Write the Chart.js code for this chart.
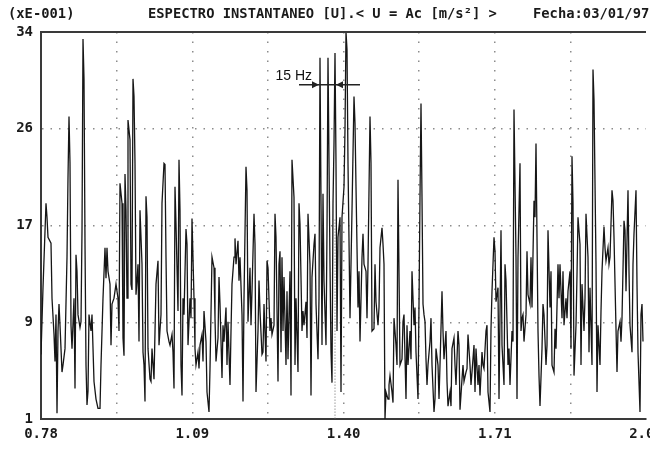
<!DOCTYPE html>
<html>
<head>
<meta charset="utf-8">
<script src="https://cdn.jsdelivr.net/npm/chart.js@4/dist/chart.umd.min.js"></script>
<style>
  html, body { margin: 0; padding: 0; background: #fff; }
  canvas { display: block; }
</style>
</head>
<body>
<canvas id="spectrum" width="650" height="460"></canvas>
<script>
// frequency line (bin) of each reading, left to right
const bins = [
  0,2,5,6,7,10,11,13,14,15,16,17,18,19,21,22,24,26,27,28,29,30,31,33,34,35,36,37,39,40,
  41,42,43,44,45,46,47,48,50,51,53,55,57,59,60,62,64,65,66,67,69,70,71,73,75,77,78,79,81,82,
  83,84,85,86,87,89,90,91,92,93,94,95,96,97,98,99,101,102,103,104,105,106,107,109,110,111,113,115,117,118,120,
  121,123,124,125,126,128,129,131,132,133,134,135,137,138,139,140,141,142,143,145,
  146,147,149,150,151,153,154,155,157,158,159,161,162,163,165,166,168,169,171,173,
  174,175,177,178,179,181,182,183,185,186,187,189,190,191,193,194,195,197,198,199,
  201,202,203,205,206,207,209,210,211,213,214,215,217,218,219,221,222,223,225,226,
  227,229,230,231,233,234,235,237,238,239,
  240,241,242,243,245,246,247,249,250,251,253,254,255,257,258,259,261,262,263,265,
  266,267,269,270,271,273,274,275,277,278,279,281,282,283,285,286,287,289,290,291,
  292,293,294,295,296,297,299,300,301,303,304,305,306,307,309,310,311,313,314,315,
  317,318,319,321,322,323,325,326,327,329,330,331,333,334,335,337,338,339,341,342,
  343,344,345,347,348,349,351,352,353,355,356,357,
  359,361,362,363,365,366,367,369,370,371,373,374,375,377,378,379,380,381,382,383,
  384,385,386,387,389,390,391,393,394,395,397,398,399,401,402,403,405,406,407,409,
  410,411,413,414,415,417,418,419,421,422,423,425,426,427,429,430,431,433,434,435,
  437,438,439,441,442,443,445,446,447,449,450,451,453,454,455,457,458,459,460,461,
  463,464,465,467,468,469,471,472,473,475,476,477,479,480,
  481,482,483,485,486,487,489,490,491,493,494,495,497,498,499,501,502,503,505,506,
  507,509,510,511,513,514,515,517,518,519,521,522,523,525,526,527,529,530,531,532,
  533,535,536,537,539,540,541,543,544,545,547,548,549,551,552,553,555,556,557,559,
  560,561,563,564,565,567,568,569,571,572,573,575,576,577,579,580,581,583,584,585,
  587,588,589,591,592,593,595,596,597,599,600,601,602
];

// amplitude (xE-001) read at each bin
const amps = [
  6.5,12.2,19.4,18.2,16.5,16.0,11.3,8.2,5.9,9.9,1.5,8.5,10.8,9.0,5.0,5.6,7.0,14.8,21.6,26.8,
  22.8,9.0,7.0,11.3,3.6,15.0,13.6,9.9,8.8,9.3,17.0,33.4,30.0,15.9,5.6,2.2,3.4,9.9,8.5,9.9,
  4.2,2.7,1.9,1.9,5.6,11.3,15.6,13.0,15.6,13.6,12.5,7.3,10.8,11.3,12.5,11.3,8.5,21.1,19.4,7.9,
  6.4,21.9,18.8,11.3,26.5,24.8,12.5,12.0,30.0,28.5,22.8,11.6,12.8,14.2,7.6,18.8,14.2,6.7,5.6,2.5,
  20.0,18.2,7.0,4.4,4.2,7.0,4.4,12.5,14.5,7.3,9.9,
  19.4,22.8,22.7,14.8,8.5,7.6,7.3,8.2,6.7,3.6,20.8,17.6,10.2,23.1,18.8,5.6,3.0,11.3,9.9,17.2,
  15.9,7.3,11.3,9.6,18.1,11.3,7.0,5.6,6.7,5.3,7.3,8.2,5.9,10.2,7.6,3.3,1.6,5.3,14.8,13.9,
  9.6,5.9,7.9,13.1,10.8,4.5,9.0,7.6,10.5,5.6,9.3,3.9,8.5,12.5,14.8,16.4,14.2,16.2,12.8,14.8,
  9.9,2.5,11.3,22.5,20.5,9.3,13.9,9.0,11.9,18.5,15.9,3.3,8.5,12.8,10.2,6.5,6.7,10.8,5.9,14.5,
  13.9,8.5,9.6,8.2,9.0,18.5,16.5,4.2,14.2,15.3,
  6.7,14.8,8.5,13.1,5.6,11.9,6.1,13.6,3.0,23.1,19.9,5.6,11.3,5.0,19.4,17.6,8.5,10.2,9.0,11.0,
  7.9,18.5,14.2,3.0,13.1,15.9,16.8,10.8,6.1,11.3,31.8,7.3,20.2,12.8,7.3,17.1,31.8,14.2,6.7,4.1,
  19.4,24.5,32.2,22.8,8.5,16.5,18.2,3.3,18.2,20.8,25.7,34.0,32.5,22.8,9.6,14.2,18.8,28.5,26.2,20.8,
  10.5,13.6,7.6,14.8,16.8,14.2,13.6,9.6,14.2,26.8,22.8,8.5,8.7,14.2,11.0,9.0,10.5,15.6,17.3,15.9,
  14.2,1.0,3.3,2.7,3.9,4.7,3.3,2.4,9.6,7.3,5.6,21.4,
  5.6,6.1,9.3,9.9,2.7,9.0,5.6,8.5,6.1,13.6,9.0,10.5,6.7,2.7,10.8,19.9,27.9,19.9,10.8,9.9,
  9.3,6.1,3.9,5.6,7.6,9.6,5.6,1.6,2.7,7.0,5.6,2.7,5.6,11.9,8.5,6.1,8.5,4.2,2.1,3.3,
  2.1,7.0,7.9,5.6,3.9,8.5,7.3,1.8,4.4,5.6,4.2,5.0,5.3,8.2,5.6,3.9,5.0,7.3,3.3,7.0,
  3.9,5.6,3.0,6.7,5.6,5.3,8.5,9.0,3.3,1.6,8.7,11.9,16.5,15.3,11.0,12.2,2.7,9.9,17.1,7.3,
  3.9,14.2,12.8,5.6,7.0,3.9,8.5,7.6,27.4,14.8,2.7,14.8,22.8,8.5,
  9.6,9.9,7.6,9.9,15.3,11.6,10.8,14.8,10.5,19.6,18.2,24.5,8.5,4.7,2.1,7.0,10.8,9.9,5.6,7.3,
  17.1,10.5,13.6,5.6,5.0,8.7,7.0,14.2,11.3,14.2,9.6,13.6,9.0,11.3,9.6,11.9,13.6,7.0,23.4,19.4,
  4.7,9.0,13.3,18.2,15.9,5.6,12.5,8.5,11.3,18.5,14.8,6.7,12.2,5.6,30.8,28.2,14.2,3.3,9.0,5.6,
  10.2,13.6,17.4,15.6,14.5,15.6,14.2,14.8,20.5,19.6,16.5,8.7,5.0,8.5,9.3,7.6,9.6,17.9,17.1,11.9,
  20.5,13.6,9.0,6.7,14.2,16.8,20.5,12.5,6.7,1.6,9.9,10.8,7.6
];

const xTickLabels = ['0.78', '1.09', '1.40', '1.71', '2.03'];
const yTickLabels = ['1', '9', '17', '26', '34'];
const binRange = [0, 605];
const ampRange = [1, 34];

// the two lines marked "15 Hz" apart, and the level of the marker
const markerBins = [279, 294];
const markerLevel = 29.5;
const markerText = '15 Hz';

const headerLeft = '(xE-001)';
const headerTitle = 'ESPECTRO INSTANTANEO [U].< U = Ac [m/s\u00b2] >';
const headerDate = 'Fecha:03/01/97';

const monoFont = { family: 'DejaVu Sans Mono', size: 14, weight: 'bold' };
const gridColor = '#8c8c8c';
const ink = '#1a1a1a';

const points = bins.map((b, i) => ({ x: b, y: amps[i] }));

const xStep = (binRange[1] - binRange[0]) / 8;
const yStep = (ampRange[1] - ampRange[0]) / 4;

const edgeClear = (n) => (c) => (c.index === 0 || c.index === n) ? 'rgba(0,0,0,0)' : gridColor;

const decorations = {
  id: 'decorations',
  afterDatasetsDraw(chart) {
    const { ctx, chartArea, scales } = chart;
    const xs = scales.x, ys = scales.y;
    ctx.save();

    // top frame line
    ctx.strokeStyle = '#3a3a3a';
    ctx.lineWidth = 2;
    ctx.beginPath();
    ctx.moveTo(chartArea.left, chartArea.top);
    ctx.lineTo(chartArea.right, chartArea.top);
    ctx.stroke();

    // dotted cursor under the second marked line
    const b = xs.getPixelForValue(markerBins[1]);
    ctx.strokeStyle = '#666';
    ctx.lineWidth = 1;
    ctx.setLineDash([1, 2]);
    ctx.beginPath();
    ctx.moveTo(b, ys.getPixelForValue(18));
    ctx.lineTo(b, chartArea.bottom);
    ctx.stroke();
    ctx.setLineDash([]);

    // 15 Hz spacing marker
    const a = xs.getPixelForValue(markerBins[0]);
    const y = ys.getPixelForValue(markerLevel);
    ctx.strokeStyle = '#222';
    ctx.fillStyle = '#222';
    ctx.lineWidth = 1.5;
    ctx.beginPath();
    ctx.moveTo(a - 21, y);
    ctx.lineTo(b + 25, y);
    ctx.stroke();
    ctx.beginPath();
    ctx.moveTo(a - 1, y); ctx.lineTo(a - 8, y - 3.5); ctx.lineTo(a - 8, y + 3.5); ctx.closePath();
    ctx.fill();
    ctx.beginPath();
    ctx.moveTo(b + 1, y); ctx.lineTo(b + 8, y - 3.5); ctx.lineTo(b + 8, y + 3.5); ctx.closePath();
    ctx.fill();
    ctx.font = '14px "Liberation Sans"';
    ctx.textAlign = 'right';
    ctx.textBaseline = 'alphabetic';
    ctx.fillStyle = '#111';
    ctx.fillText(markerText, a - 8, y - 5);

    // header line
    ctx.font = 'bold 13.8px "DejaVu Sans Mono"';
    ctx.fillStyle = ink;
    ctx.textAlign = 'left';
    ctx.textBaseline = 'middle';
    ctx.fillText(headerLeft, 8, 14);
    ctx.fillText(headerTitle, 148, 14);
    ctx.fillText(headerDate, 533, 14);
    ctx.restore();
  }
};

new Chart(document.getElementById('spectrum'), {
  type: 'line',
  data: {
    datasets: [{
      data: points,
      borderColor: '#161616',
      borderWidth: 1.3,
      pointRadius: 0,
      tension: 0,
    }],
  },
  options: {
    responsive: false,
    animation: false,
    events: [],
    layout: { padding: { top: 32, right: 4, left: 0, bottom: 0 } },
    plugins: {
      legend: { display: false },
      tooltip: { enabled: false },
    },
    scales: {
      x: {
        type: 'linear',
        min: binRange[0],
        max: binRange[1],
        afterBuildTicks: (s) => {
          s.ticks = [];
          for (let i = 0; i <= 8; i++) s.ticks.push({ value: binRange[0] + i * xStep });
        },
        afterFit: (s) => {
          s.height = 41;
          s.paddingLeft = 0;
          s.paddingRight = 0;
        },
        ticks: {
          autoSkip: false,
          maxRotation: 0,
          padding: 7,
          color: ink,
          font: monoFont,
          callback: (v, i) => (i % 2 === 0 ? xTickLabels[i / 2] : ''),
        },
        grid: { color: edgeClear(8), lineWidth: 1.5, drawTicks: false },
        border: { display: true, color: '#3a3a3a', width: 2, dash: [1.5, 8] },
      },
      y: {
        type: 'linear',
        min: ampRange[0],
        max: ampRange[1],
        afterBuildTicks: (s) => {
          s.ticks = yTickLabels.map((_, i) => ({ value: ampRange[0] + i * yStep }));
        },
        afterFit: (s) => {
          s.width = 41;
          s.paddingTop = 0;
          s.paddingBottom = 0;
        },
        ticks: {
          padding: 8,
          color: ink,
          font: monoFont,
          callback: (v, i) => yTickLabels[i],
        },
        grid: { color: edgeClear(4), lineWidth: 1.5, drawTicks: false },
        border: { display: true, color: '#3a3a3a', width: 2, dash: [1.5, 7] },
      },
    },
  },
  plugins: [decorations],
});
</script>
</body>
</html>
